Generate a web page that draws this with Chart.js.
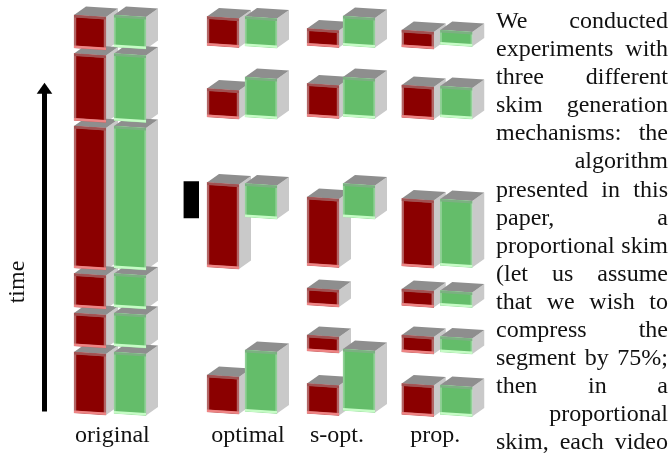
<!DOCTYPE html>
<html>
<head>
<meta charset="utf-8">
<script src="https://cdn.jsdelivr.net/npm/chart.js@4"></script>
<style>
  html, body { margin: 0; background: #fff; }
  #page { position: relative; width: 671px; height: 454px; overflow: hidden; }
  canvas { position: absolute; left: 0; top: 0; }
  #body { position: absolute; left: 496px; top: 6px; width: 172px; font: 24px/28.1px "Liberation Serif", serif; color: #111; }
  #body div { text-align-last: justify; white-space: nowrap; }
  #body div.right { text-align-last: right; }
</style>
</head>
<body>
<div id="page">
  <canvas id="arrow" width="671" height="454"></canvas>
  <canvas id="marker" width="671" height="454"></canvas>
  <canvas id="original" width="671" height="454"></canvas>
  <canvas id="optimal" width="671" height="454"></canvas>
  <canvas id="sopt" width="671" height="454"></canvas>
  <canvas id="prop" width="671" height="454"></canvas>
  <div id="body"></div>
</div>
<script>
// time runs upward, [start, end] for every kept segment
const tracks = ["video", "audio"];

const originalVideo = [[1, 62], [68, 101], [107, 140.5], [146, 288], [293.5, 360.5], [366, 399]];
const originalAudio = [[0.5, 62], [68, 101], [107, 140.5], [146, 288], [293.5, 360.5], [367, 399]];

const optimalVideo = [[2, 39], [147, 231.5], [297, 325.5], [368.5, 397.5]];
const optimalAudio = [[2.5, 64], [197, 230.5], [297, 337], [368, 397.5]];

const soptVideo = [[0.5, 30.5], [63, 79], [109, 126], [148.5, 217], [297.5, 330.5], [368.5, 385.5]];
const soptAudio = [[3.5, 65], [197, 230.5], [297.5, 337], [368.5, 398]];

const propVideo = [[-0.5, 30.5], [62, 79], [108.5, 125], [148, 215.5], [296.5, 329], [367, 384]];
const propAudio = [[-0.5, 29], [62, 77.5], [108.5, 123.5], [148.5, 215], [297, 328], [369.5, 384]];

const markerSpan = [197, 233.5];
const arrowSpan = [3.5, 325];

const bodyLines = [
  "We conducted", "experiments with", "three different", "skim generation",
  "mechanisms: the", "algorithm", "presented in this", "paper, a",
  "proportional skim", "(let us assume", "that we wish to", "compress the",
  "segment by 75%;", "then in a", "proportional", "skim, each video",
];
const rightLines = ["algorithm", "proportional"];

const timeMin = -39;
const timeMax = 415;
const depthX = 12;
const depthY = 8.5;
const slant = 0.07;

const looks = {
  video: { fill: "#8b0000", edge: "#b26565", top: "#a05252", bottom: "#ee8484" },
  audio: { fill: "#64bd6a", edge: "#90d096", top: "#7cb082", bottom: "#c6fcc6" },
};

function barBox(bar) {
  const p = bar.getProps(["x", "y", "base", "width"], true);
  return { left: p.x - p.width / 2, right: p.x + p.width / 2, top: p.y, bottom: p.base };
}

function quad(ctx, color, pts) {
  ctx.fillStyle = color;
  ctx.beginPath();
  ctx.moveTo(pts[0][0], pts[0][1]);
  pts.slice(1).forEach((p) => ctx.lineTo(p[0], p[1]));
  ctx.closePath();
  ctx.fill();
}

// grey side and top faces go down first, library draws the front over them
const boxFaces = {
  id: "boxFaces",
  beforeDatasetsDraw(chart) {
    const ctx = chart.ctx;
    const metas = chart.getSortedVisibleDatasetMetas();
    const boxes = [];
    metas.forEach((meta) => {
      meta.data.forEach((bar, i) => {
        if (chart.data.datasets[meta.index].data[i]) boxes.push(barBox(bar));
      });
    });
    boxes.forEach((b) => {
      const h = ((b.right - b.left) / 2) * slant;
      quad(ctx, "#c9c9c9", [
        [b.right, b.top + h], [b.right + depthX, b.top + h - depthY],
        [b.right + depthX, b.bottom + h - depthY], [b.right, b.bottom + h],
      ]);
    });
    boxes.forEach((b) => {
      const h = ((b.right - b.left) / 2) * slant;
      quad(ctx, "#8e8e8e", [
        [b.left, b.top - h], [b.right, b.top + h],
        [b.right + depthX, b.top + h - depthY], [b.left + depthX, b.top - h - depthY],
      ]);
    });
  },
  beforeDatasetDraw(chart, args) {
    const ds = chart.data.datasets[args.index];
    const i = ds.data.findIndex((v) => v);
    const x = args.meta.data[i].x;
    chart.ctx.save();
    chart.ctx.transform(1, slant, 0, 1, 0, -slant * x);
  },
  afterDatasetDraw(chart, args) {
    const ds = chart.data.datasets[args.index];
    const i = ds.data.findIndex((v) => v);
    const b = barBox(args.meta.data[i]);
    const ctx = chart.ctx;
    const look = looks[tracks[i]];
    ctx.fillStyle = look.top;
    ctx.fillRect(b.left, b.top, b.right - b.left, 2.5);
    ctx.fillStyle = look.bottom;
    ctx.fillRect(b.left, b.bottom - 2.5, b.right - b.left, 2.5);
    ctx.restore();
  },
};

const groupLabel = {
  id: "groupLabel",
  afterDraw(chart, args, opts) {
    const ctx = chart.ctx;
    const area = chart.chartArea;
    ctx.save();
    ctx.fillStyle = "#111";
    ctx.font = '24px "Liberation Serif", serif';
    ctx.textAlign = "center";
    ctx.fillText(opts.text, (area.left + area.right) / 2 + opts.shift, chart.scales.y.getPixelForValue(-27));
    ctx.restore();
  },
};

function timeScale() {
  return { display: false, min: timeMin, max: timeMax };
}

function skimChart(id, label, video, audio, left, right, shift) {
  const datasets = [];
  video.forEach((span) => {
    datasets.push({
      data: [span, null], order: 2, backgroundColor: looks.video.fill, borderColor: looks.video.edge,
      borderWidth: 2.5, borderSkipped: false, barThickness: 32, grouped: false, clip: false,
    });
  });
  audio.forEach((span) => {
    datasets.push({
      data: [null, span], order: 1, backgroundColor: looks.audio.fill, borderColor: looks.audio.edge,
      borderWidth: 2, borderSkipped: false, barThickness: 32, grouped: false, clip: false,
    });
  });
  return new Chart(document.getElementById(id), {
    type: "bar",
    data: { labels: tracks, datasets: datasets },
    plugins: [boxFaces, groupLabel],
    options: {
      responsive: false,
      animation: false,
      layout: { padding: { left: left, right: 671 - right, top: 0, bottom: 0 } },
      plugins: { legend: { display: false }, tooltip: { enabled: false }, groupLabel: { text: label, shift: shift } },
      scales: { x: { display: false }, y: timeScale() },
    },
  });
}

skimChart("original", "original", originalVideo, originalAudio, 70, 150, 2.4);
skimChart("optimal", "optimal", optimalVideo, optimalAudio, 204, 280, 6);
skimChart("sopt", "s-opt.", soptVideo, soptAudio, 305, 377, -4);
skimChart("prop", "prop.", propVideo, propAudio, 398.5, 475.5, -1.75);

// black block next to the optimal column
new Chart(document.getElementById("marker"), {
  type: "bar",
  data: { labels: ["marker"], datasets: [{ data: [markerSpan], backgroundColor: "#000", barPercentage: 1, categoryPercentage: 1 }] },
  options: {
    responsive: false,
    animation: false,
    layout: { padding: { left: 183.5, right: 671 - 199, top: 0, bottom: 0 } },
    plugins: { legend: { display: false }, tooltip: { enabled: false } },
    scales: { x: { display: false }, y: timeScale() },
  },
});

const arrowHead = {
  id: "arrowHead",
  afterDraw(chart) {
    const ctx = chart.ctx;
    const x = chart.scales.x.getPixelForValue(0);
    const tip = chart.scales.y.getPixelForValue(arrowSpan[1]) - 7.3;
    quad(ctx, "#000", [[x, tip], [x + 7.8, tip + 11], [x - 7.8, tip + 11]]);
    ctx.save();
    ctx.translate(24, chart.scales.y.getPixelForValue(133));
    ctx.rotate(-Math.PI / 2);
    ctx.fillStyle = "#111";
    ctx.font = '24px "Liberation Serif", serif';
    ctx.textAlign = "center";
    ctx.fillText("time", 0, 0);
    ctx.restore();
  },
};

new Chart(document.getElementById("arrow"), {
  type: "scatter",
  data: {
    datasets: [{
      data: arrowSpan.map((t) => ({ x: 0, y: t })),
      showLine: true, borderColor: "#000", borderWidth: 5, pointRadius: 0,
    }],
  },
  plugins: [arrowHead],
  options: {
    responsive: false,
    animation: false,
    layout: { padding: { left: 34, right: 671 - 55, top: 0, bottom: 0 } },
    plugins: { legend: { display: false }, tooltip: { enabled: false } },
    scales: { x: { display: false, min: -1, max: 1 }, y: timeScale() },
  },
});

const body = document.getElementById("body");
bodyLines.forEach((line) => {
  const row = document.createElement("div");
  row.textContent = line;
  if (rightLines.includes(line)) row.className = "right";
  body.appendChild(row);
});
</script>
</body>
</html>
